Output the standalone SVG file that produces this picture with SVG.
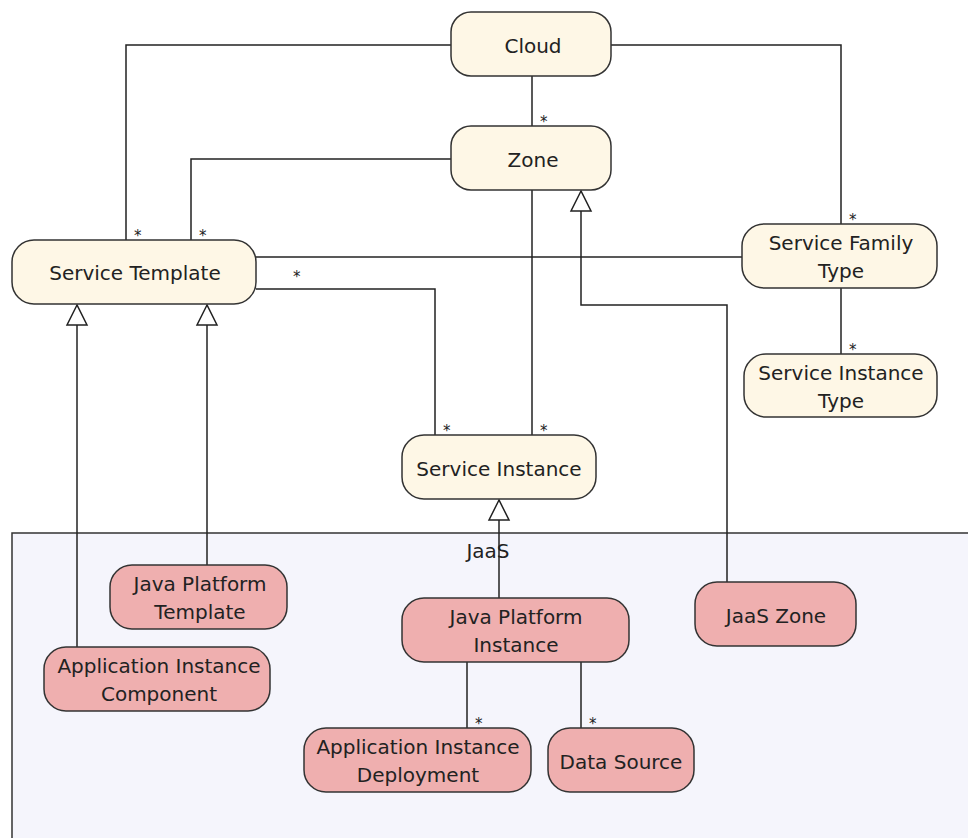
<svg xmlns="http://www.w3.org/2000/svg" width="968" height="838" viewBox="0 0 968 838">
<style>
.core{fill:#FEF7E6;stroke:#333;stroke-width:1.5}
.jaas{fill:#EFAFAF;stroke:#333;stroke-width:1.5}
.pkg{fill:#F5F5FC;stroke:#333;stroke-width:1.5}
text{font-family:"DejaVu Sans","Liberation Sans",sans-serif;font-size:20px;fill:#222;text-anchor:middle}
.star{font-size:15px;text-anchor:start;fill:#222}
.ln{fill:none;stroke:#222;stroke-width:1.5}
</style>
<defs>
<marker id="gen" markerUnits="userSpaceOnUse" viewBox="0 0 20 20" markerWidth="20" markerHeight="20" refX="20" refY="10" orient="auto" overflow="visible">
<path d="M20,10 L0,0 L0,20 Z" fill="#fff" stroke="#222" stroke-width="1.5"/>
</marker>
</defs>
<rect width="968" height="838" fill="#fff"/>
<g id="pkg-jaas">
<rect class="pkg" x="12" y="533" width="970" height="320"/>
<text x="488" y="558">JaaS</text>
</g>
<g id="connectors">
<path class="ln" d="M532 76 V126"/>
<path class="ln" d="M451 45 H126 V240"/>
<path class="ln" d="M451 159 H191 V240"/>
<path class="ln" d="M611 45 H841 V224"/>
<path class="ln" d="M256 257 H743"/>
<path class="ln" d="M256 289 H435 V435"/>
<path class="ln" d="M532 190 V435"/>
<path class="ln" d="M841 288 V354"/>
<path class="ln" d="M727 582 V305 H581 V191" marker-end="url(#gen)"/>
<path class="ln" d="M77 647 V305" marker-end="url(#gen)"/>
<path class="ln" d="M207 565 V305" marker-end="url(#gen)"/>
<path class="ln" d="M499 598 V500" marker-end="url(#gen)"/>
<path class="ln" d="M467 662 V728"/>
<path class="ln" d="M581 662 V728"/>
<text class="star" x="540" y="127">*</text>
<text class="star" x="134" y="241">*</text>
<text class="star" x="199" y="241">*</text>
<text class="star" x="849" y="225">*</text>
<text class="star" x="293" y="282">*</text>
<text class="star" x="443" y="436">*</text>
<text class="star" x="540" y="436">*</text>
<text class="star" x="849" y="355">*</text>
<text class="star" x="475" y="729">*</text>
<text class="star" x="589" y="729">*</text>
</g>
<g id="cloud">
<rect class="core" x="451" y="12" width="160" height="64" rx="20"/>
<text x="533" y="53">Cloud</text>
</g>
<g id="zone">
<rect class="core" x="451" y="126" width="160" height="64" rx="20"/>
<text x="533" y="167">Zone</text>
</g>
<g id="service-template">
<rect class="core" x="12" y="240" width="244" height="64" rx="22"/>
<text x="135" y="280">Service Template</text>
</g>
<g id="service-family-type">
<rect class="core" x="742" y="224" width="195" height="64" rx="22"/>
<text x="841" y="250">Service Family</text>
<text x="841" y="278">Type</text>
</g>
<g id="service-instance-type">
<rect class="core" x="744" y="354" width="193" height="63" rx="22"/>
<text x="841" y="380">Service Instance</text>
<text x="841" y="408">Type</text>
</g>
<g id="service-instance">
<rect class="core" x="402" y="435" width="194" height="64" rx="22"/>
<text x="499" y="476">Service Instance</text>
</g>
<g id="java-platform-template">
<rect class="jaas" x="110" y="565" width="177" height="64" rx="22"/>
<text x="200" y="591">Java Platform</text>
<text x="200" y="619">Template</text>
</g>
<g id="application-instance-component">
<rect class="jaas" x="44" y="647" width="226" height="64" rx="22"/>
<text x="159" y="673">Application Instance</text>
<text x="159" y="701">Component</text>
</g>
<g id="java-platform-instance">
<rect class="jaas" x="402" y="598" width="227" height="64" rx="22"/>
<text x="516" y="624">Java Platform</text>
<text x="516" y="652">Instance</text>
</g>
<g id="jaas-zone">
<rect class="jaas" x="695" y="582" width="161" height="64" rx="22"/>
<text x="776" y="623">JaaS Zone</text>
</g>
<g id="application-instance-deployment">
<rect class="jaas" x="304" y="728" width="227" height="64" rx="22"/>
<text x="418" y="754">Application Instance</text>
<text x="418" y="782">Deployment</text>
</g>
<g id="data-source">
<rect class="jaas" x="548" y="728" width="146" height="64" rx="22"/>
<text x="621" y="769">Data Source</text>
</g>
</svg>
